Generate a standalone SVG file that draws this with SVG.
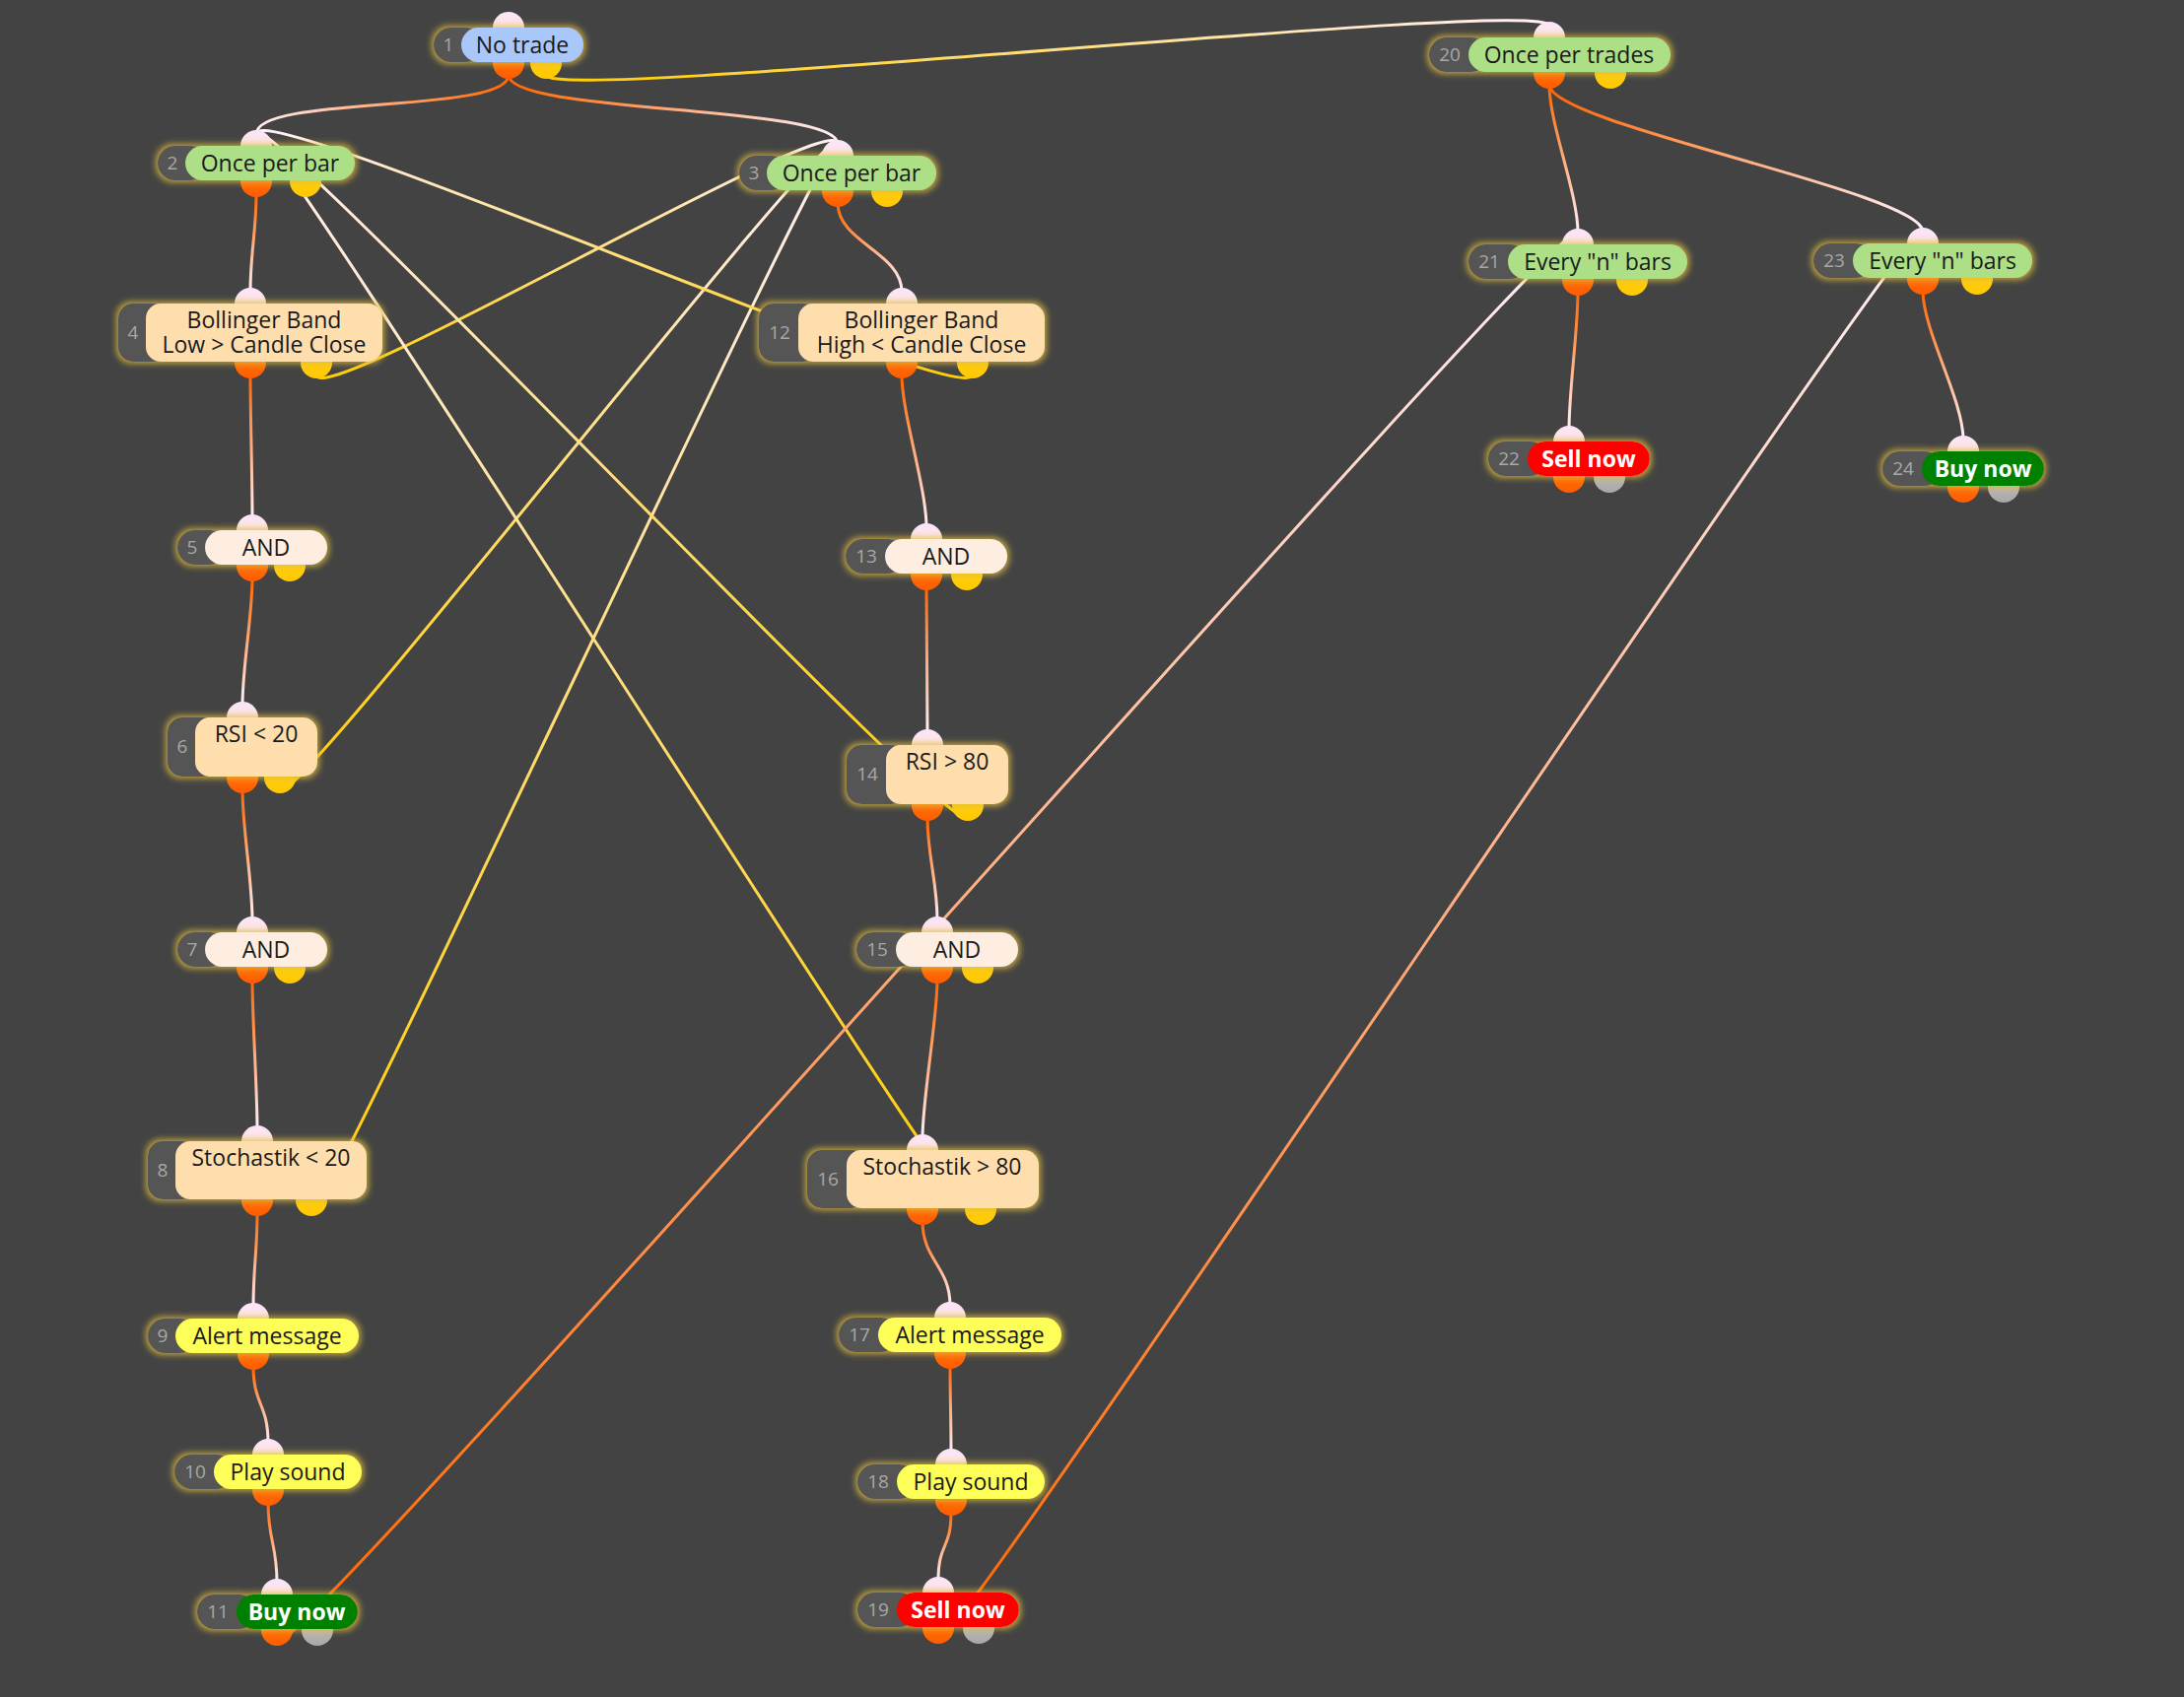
<svg xmlns="http://www.w3.org/2000/svg" width="2216" height="1722" viewBox="0 0 2216 1722">
<style>
text{font-family:"Open Sans","Noto Sans","DejaVu Sans",sans-serif}
.lbl{font-size:23px;fill:#1a1a1a;text-anchor:middle}
.wl{font-size:23px;fill:#ffffff;font-weight:bold;text-anchor:middle}
.num{font-size:19px;fill:#a8a8a8;text-anchor:middle}
.np{fill:#555555}
.blue{fill:#a9c8f9}
.green{fill:#addf87}
.peach{fill:#ffdeae}
.and{fill:#fdeee1}
.yel{fill:#fefe58}
.buy{fill:#008000}
.sell{fill:#ff0000}
.pin{fill:url(#gIn)}
.po{fill:url(#gOr)}
.py{fill:url(#gYe)}
.pg{fill:url(#gGr)}
.c{fill:none;stroke-width:3;stroke-linecap:round}
</style>
<defs>
<linearGradient id="gIn" x1="0" y1="0" x2="0" y2="1"><stop offset="0" stop-color="#fbe4fa"/><stop offset="1" stop-color="#ffe5cc"/></linearGradient>
<linearGradient id="gOr" x1="0" y1="0" x2="0" y2="1"><stop offset="0" stop-color="#ff8410"/><stop offset="1" stop-color="#ff5c00"/></linearGradient>
<linearGradient id="gYe" x1="0" y1="0" x2="0" y2="1"><stop offset="0" stop-color="#ffd424"/><stop offset="1" stop-color="#ffc800"/></linearGradient>
<linearGradient id="gGr" x1="0" y1="0" x2="0" y2="1"><stop offset="0" stop-color="#d0c8c0"/><stop offset="1" stop-color="#a8a8a8"/></linearGradient>
<filter id="glow" x="-20%" y="-60%" width="140%" height="220%">
<feMorphology in="SourceAlpha" operator="dilate" radius="2" result="d"/>
<feGaussianBlur in="d" stdDeviation="3" result="b"/>
<feFlood flood-color="#e0bc3c" flood-opacity="0.8"/>
<feComposite in2="b" operator="in" result="g"/>
<feMerge><feMergeNode in="g"/><feMergeNode in="SourceGraphic"/></feMerge>
</filter>
<linearGradient id="l1" gradientUnits="userSpaceOnUse" x1="516" y1="76" x2="260" y2="136"><stop offset="0" stop-color="#ff6600"/><stop offset="1" stop-color="#fff0f6"/></linearGradient>
<linearGradient id="l2" gradientUnits="userSpaceOnUse" x1="516" y1="76" x2="850" y2="146"><stop offset="0" stop-color="#ff6600"/><stop offset="1" stop-color="#fff0f6"/></linearGradient>
<linearGradient id="l3" gradientUnits="userSpaceOnUse" x1="554" y1="76" x2="1572" y2="26"><stop offset="0" stop-color="#ffcc00"/><stop offset="1" stop-color="#fff0f6"/></linearGradient>
<linearGradient id="l4" gradientUnits="userSpaceOnUse" x1="260" y1="196" x2="254" y2="296"><stop offset="0" stop-color="#ff6600"/><stop offset="1" stop-color="#fff0f6"/></linearGradient>
<linearGradient id="l5" gradientUnits="userSpaceOnUse" x1="850" y1="206" x2="915" y2="296"><stop offset="0" stop-color="#ff6600"/><stop offset="1" stop-color="#fff0f6"/></linearGradient>
<linearGradient id="l6" gradientUnits="userSpaceOnUse" x1="254" y1="380" x2="256" y2="526"><stop offset="0" stop-color="#ff6600"/><stop offset="1" stop-color="#fff0f6"/></linearGradient>
<linearGradient id="l7" gradientUnits="userSpaceOnUse" x1="256" y1="586" x2="246" y2="716"><stop offset="0" stop-color="#ff6600"/><stop offset="1" stop-color="#fff0f6"/></linearGradient>
<linearGradient id="l8" gradientUnits="userSpaceOnUse" x1="246" y1="801" x2="256" y2="934"><stop offset="0" stop-color="#ff6600"/><stop offset="1" stop-color="#fff0f6"/></linearGradient>
<linearGradient id="l9" gradientUnits="userSpaceOnUse" x1="256" y1="994" x2="261" y2="1146"><stop offset="0" stop-color="#ff6600"/><stop offset="1" stop-color="#fff0f6"/></linearGradient>
<linearGradient id="l10" gradientUnits="userSpaceOnUse" x1="261" y1="1230" x2="257" y2="1326"><stop offset="0" stop-color="#ff6600"/><stop offset="1" stop-color="#fff0f6"/></linearGradient>
<linearGradient id="l11" gradientUnits="userSpaceOnUse" x1="257" y1="1386" x2="272" y2="1464"><stop offset="0" stop-color="#ff6600"/><stop offset="1" stop-color="#fff0f6"/></linearGradient>
<linearGradient id="l12" gradientUnits="userSpaceOnUse" x1="272" y1="1524" x2="281" y2="1606"><stop offset="0" stop-color="#ff6600"/><stop offset="1" stop-color="#fff0f6"/></linearGradient>
<linearGradient id="l13" gradientUnits="userSpaceOnUse" x1="915" y1="380" x2="940" y2="535"><stop offset="0" stop-color="#ff6600"/><stop offset="1" stop-color="#fff0f6"/></linearGradient>
<linearGradient id="l14" gradientUnits="userSpaceOnUse" x1="940" y1="595" x2="941" y2="744"><stop offset="0" stop-color="#ff6600"/><stop offset="1" stop-color="#fff0f6"/></linearGradient>
<linearGradient id="l15" gradientUnits="userSpaceOnUse" x1="941" y1="829" x2="951" y2="934"><stop offset="0" stop-color="#ff6600"/><stop offset="1" stop-color="#fff0f6"/></linearGradient>
<linearGradient id="l16" gradientUnits="userSpaceOnUse" x1="951" y1="994" x2="936" y2="1155"><stop offset="0" stop-color="#ff6600"/><stop offset="1" stop-color="#fff0f6"/></linearGradient>
<linearGradient id="l17" gradientUnits="userSpaceOnUse" x1="936" y1="1239" x2="964" y2="1325"><stop offset="0" stop-color="#ff6600"/><stop offset="1" stop-color="#fff0f6"/></linearGradient>
<linearGradient id="l18" gradientUnits="userSpaceOnUse" x1="964" y1="1385" x2="965" y2="1474"><stop offset="0" stop-color="#ff6600"/><stop offset="1" stop-color="#fff0f6"/></linearGradient>
<linearGradient id="l19" gradientUnits="userSpaceOnUse" x1="965" y1="1534" x2="952" y2="1604"><stop offset="0" stop-color="#ff6600"/><stop offset="1" stop-color="#fff0f6"/></linearGradient>
<linearGradient id="l20" gradientUnits="userSpaceOnUse" x1="1572" y1="86" x2="1601" y2="236"><stop offset="0" stop-color="#ff6600"/><stop offset="1" stop-color="#fff0f6"/></linearGradient>
<linearGradient id="l21" gradientUnits="userSpaceOnUse" x1="1572" y1="86" x2="1951" y2="235"><stop offset="0" stop-color="#ff6600"/><stop offset="1" stop-color="#fff0f6"/></linearGradient>
<linearGradient id="l22" gradientUnits="userSpaceOnUse" x1="1601" y1="296" x2="1592" y2="436"><stop offset="0" stop-color="#ff6600"/><stop offset="1" stop-color="#fff0f6"/></linearGradient>
<linearGradient id="l23" gradientUnits="userSpaceOnUse" x1="1951" y1="295" x2="1992" y2="446"><stop offset="0" stop-color="#ff6600"/><stop offset="1" stop-color="#fff0f6"/></linearGradient>
<linearGradient id="l24" gradientUnits="userSpaceOnUse" x1="321" y1="380" x2="850" y2="146"><stop offset="0" stop-color="#ffcc00"/><stop offset="1" stop-color="#fff0f6"/></linearGradient>
<linearGradient id="l25" gradientUnits="userSpaceOnUse" x1="284" y1="801" x2="850" y2="146"><stop offset="0" stop-color="#ffcc00"/><stop offset="1" stop-color="#fff0f6"/></linearGradient>
<linearGradient id="l26" gradientUnits="userSpaceOnUse" x1="316" y1="1230" x2="850" y2="146"><stop offset="0" stop-color="#ffcc00"/><stop offset="1" stop-color="#fff0f6"/></linearGradient>
<linearGradient id="l27" gradientUnits="userSpaceOnUse" x1="987" y1="380" x2="260" y2="136"><stop offset="0" stop-color="#ffcc00"/><stop offset="1" stop-color="#fff0f6"/></linearGradient>
<linearGradient id="l28" gradientUnits="userSpaceOnUse" x1="982" y1="829" x2="260" y2="136"><stop offset="0" stop-color="#ffcc00"/><stop offset="1" stop-color="#fff0f6"/></linearGradient>
<linearGradient id="l29" gradientUnits="userSpaceOnUse" x1="995" y1="1239" x2="260" y2="136"><stop offset="0" stop-color="#ffcc00"/><stop offset="1" stop-color="#fff0f6"/></linearGradient>
<linearGradient id="l30" gradientUnits="userSpaceOnUse" x1="281" y1="1666" x2="1601" y2="236"><stop offset="0" stop-color="#ff6600"/><stop offset="1" stop-color="#fff0f6"/></linearGradient>
<linearGradient id="l31" gradientUnits="userSpaceOnUse" x1="952" y1="1664" x2="1951" y2="235"><stop offset="0" stop-color="#ff6600"/><stop offset="1" stop-color="#fff0f6"/></linearGradient>
</defs>
<rect width="2216" height="1722" fill="#434343"/>
<g id="connectors">
<path class="c" stroke="url(#l1)" d="M516 76 C516 116 260 96 260 136"/>
<path class="c" stroke="url(#l2)" d="M516 76 C516 116 850 106 850 146"/>
<path class="c" stroke="url(#l3)" d="M554 76 C554 106 1572 -4 1572 26"/>
<path class="c" stroke="url(#l4)" d="M260 196 C260 236 254 256 254 296"/>
<path class="c" stroke="url(#l5)" d="M850 206 C850 246 915 256 915 296"/>
<path class="c" stroke="url(#l6)" d="M254 380 C254 420 256 486 256 526"/>
<path class="c" stroke="url(#l7)" d="M256 586 C256 626 246 676 246 716"/>
<path class="c" stroke="url(#l8)" d="M246 801 C246 841 256 894 256 934"/>
<path class="c" stroke="url(#l9)" d="M256 994 C256 1034 261 1106 261 1146"/>
<path class="c" stroke="url(#l10)" d="M261 1230 C261 1270 257 1286 257 1326"/>
<path class="c" stroke="url(#l11)" d="M257 1386 C257 1426 272 1424 272 1464"/>
<path class="c" stroke="url(#l12)" d="M272 1524 C272 1564 281 1566 281 1606"/>
<path class="c" stroke="url(#l13)" d="M915 380 C915 420 940 495 940 535"/>
<path class="c" stroke="url(#l14)" d="M940 595 C940 635 941 704 941 744"/>
<path class="c" stroke="url(#l15)" d="M941 829 C941 869 951 894 951 934"/>
<path class="c" stroke="url(#l16)" d="M951 994 C951 1034 936 1115 936 1155"/>
<path class="c" stroke="url(#l17)" d="M936 1239 C936 1279 964 1285 964 1325"/>
<path class="c" stroke="url(#l18)" d="M964 1385 C964 1425 965 1434 965 1474"/>
<path class="c" stroke="url(#l19)" d="M965 1534 C965 1574 952 1564 952 1604"/>
<path class="c" stroke="url(#l20)" d="M1572 86 C1572 126 1601 196 1601 236"/>
<path class="c" stroke="url(#l21)" d="M1572 86 C1572 126 1951 195 1951 235"/>
<path class="c" stroke="url(#l22)" d="M1601 296 C1601 336 1592 396 1592 436"/>
<path class="c" stroke="url(#l23)" d="M1951 295 C1951 335 1992 406 1992 446"/>
<path class="c" stroke="url(#l24)" d="M321 380 C321 420 850 106 850 146"/>
<path class="c" stroke="url(#l25)" d="M284 801 C284 841 850 106 850 146"/>
<path class="c" stroke="url(#l26)" d="M316 1230 C316 1270 850 106 850 146"/>
<path class="c" stroke="url(#l27)" d="M987 380 C987 420 260 96 260 136"/>
<path class="c" stroke="url(#l28)" d="M982 829 C982 869 260 96 260 136"/>
<path class="c" stroke="url(#l29)" d="M995 1239 C995 1279 260 96 260 136"/>
<path class="c" stroke="url(#l30)" d="M281 1666 C281 1706 1601 196 1601 236"/>
<path class="c" stroke="url(#l31)" d="M952 1664 C952 1704 1951 195 1951 235"/>
</g>

<g id="node1">
<rect class="pin" x="500" y="12" width="32" height="36" rx="16"/>
<rect class="po" x="500" y="44" width="32" height="36" rx="16"/>
<rect class="py" x="538" y="44" width="32" height="36" rx="16"/>
<g filter="url(#glow)"><rect class="np" x="440" y="28" width="50" height="35" rx="17.5"/><rect class="blue" x="468" y="28" width="124" height="35" rx="17.5"/></g>
<text class="num" x="455" y="52">1</text><text class="lbl" x="530" y="53.5">No trade</text>
</g>

<g id="node2">
<rect class="pin" x="244" y="132" width="32" height="36" rx="16"/>
<rect class="po" x="244" y="164" width="32" height="36" rx="16"/>
<rect class="py" x="294" y="164" width="32" height="36" rx="16"/>
<g filter="url(#glow)"><rect class="np" x="160" y="148" width="50" height="35" rx="17.5"/><rect class="green" x="188" y="148" width="172" height="35" rx="17.5"/></g>
<text class="num" x="175" y="172">2</text><text class="lbl" x="274" y="173.5">Once per bar</text>
</g>

<g id="node3">
<rect class="pin" x="834" y="142" width="32" height="36" rx="16"/>
<rect class="po" x="834" y="174" width="32" height="36" rx="16"/>
<rect class="py" x="884" y="174" width="32" height="36" rx="16"/>
<g filter="url(#glow)"><rect class="np" x="750" y="158" width="50" height="35" rx="17.5"/><rect class="green" x="778" y="158" width="172" height="35" rx="17.5"/></g>
<text class="num" x="765" y="182">3</text><text class="lbl" x="864" y="183.5">Once per bar</text>
</g>

<g id="node4">
<rect class="pin" x="238" y="292" width="32" height="36" rx="16"/>
<rect class="po" x="238" y="348" width="32" height="36" rx="16"/>
<rect class="py" x="305" y="348" width="32" height="36" rx="16"/>
<g filter="url(#glow)"><rect class="np" x="120" y="308" width="50" height="59" rx="15"/><rect class="peach" x="148" y="308" width="240" height="59" rx="15"/></g>
<text class="num" x="135" y="344">4</text><text class="lbl" x="268" y="333">Bollinger Band</text><text class="lbl" x="268" y="358">Low &gt; Candle Close</text>
</g>

<g id="node12">
<rect class="pin" x="899" y="292" width="32" height="36" rx="16"/>
<rect class="po" x="899" y="348" width="32" height="36" rx="16"/>
<rect class="py" x="971" y="348" width="32" height="36" rx="16"/>
<g filter="url(#glow)"><rect class="np" x="770" y="308" width="60" height="59" rx="15"/><rect class="peach" x="810" y="308" width="250" height="59" rx="15"/></g>
<text class="num" x="791" y="344">12</text><text class="lbl" x="935" y="333">Bollinger Band</text><text class="lbl" x="935" y="358">High &lt; Candle Close</text>
</g>

<g id="node5">
<rect class="pin" x="240" y="522" width="32" height="36" rx="16"/>
<rect class="po" x="240" y="554" width="32" height="36" rx="16"/>
<rect class="py" x="278" y="554" width="32" height="36" rx="16"/>
<g filter="url(#glow)"><rect class="np" x="180" y="538" width="50" height="35" rx="17.5"/><rect class="and" x="208" y="538" width="124" height="35" rx="17.5"/></g>
<text class="num" x="195" y="562">5</text><text class="lbl" x="270" y="563.5">AND</text>
</g>

<g id="node13">
<rect class="pin" x="924" y="531" width="32" height="36" rx="16"/>
<rect class="po" x="924" y="563" width="32" height="36" rx="16"/>
<rect class="py" x="965" y="563" width="32" height="36" rx="16"/>
<g filter="url(#glow)"><rect class="np" x="858" y="547" width="60" height="35" rx="17.5"/><rect class="and" x="898" y="547" width="124" height="35" rx="17.5"/></g>
<text class="num" x="879" y="571">13</text><text class="lbl" x="960" y="572.5">AND</text>
</g>

<g id="node6">
<rect class="pin" x="230" y="712" width="32" height="36" rx="16"/>
<rect class="po" x="230" y="769" width="32" height="36" rx="16"/>
<rect class="py" x="268" y="769" width="32" height="36" rx="16"/>
<g filter="url(#glow)"><rect class="np" x="170" y="728" width="50" height="60" rx="15"/><rect class="peach" x="198" y="728" width="124" height="60" rx="15"/></g>
<text class="num" x="185" y="764">6</text><text class="lbl" x="260" y="753">RSI &lt; 20</text>
</g>

<g id="node14">
<rect class="pin" x="925" y="740" width="32" height="36" rx="16"/>
<rect class="po" x="925" y="797" width="32" height="36" rx="16"/>
<rect class="py" x="966" y="797" width="32" height="36" rx="16"/>
<g filter="url(#glow)"><rect class="np" x="859" y="756" width="60" height="60" rx="15"/><rect class="peach" x="899" y="756" width="124" height="60" rx="15"/></g>
<text class="num" x="880" y="792">14</text><text class="lbl" x="961" y="781">RSI &gt; 80</text>
</g>

<g id="node7">
<rect class="pin" x="240" y="930" width="32" height="36" rx="16"/>
<rect class="po" x="240" y="962" width="32" height="36" rx="16"/>
<rect class="py" x="278" y="962" width="32" height="36" rx="16"/>
<g filter="url(#glow)"><rect class="np" x="180" y="946" width="50" height="35" rx="17.5"/><rect class="and" x="208" y="946" width="124" height="35" rx="17.5"/></g>
<text class="num" x="195" y="970">7</text><text class="lbl" x="270" y="971.5">AND</text>
</g>

<g id="node15">
<rect class="pin" x="935" y="930" width="32" height="36" rx="16"/>
<rect class="po" x="935" y="962" width="32" height="36" rx="16"/>
<rect class="py" x="976" y="962" width="32" height="36" rx="16"/>
<g filter="url(#glow)"><rect class="np" x="869" y="946" width="60" height="35" rx="17.5"/><rect class="and" x="909" y="946" width="124" height="35" rx="17.5"/></g>
<text class="num" x="890" y="970">15</text><text class="lbl" x="971" y="971.5">AND</text>
</g>

<g id="node8">
<rect class="pin" x="245" y="1142" width="32" height="36" rx="16"/>
<rect class="po" x="245" y="1198" width="32" height="36" rx="16"/>
<rect class="py" x="300" y="1198" width="32" height="36" rx="16"/>
<g filter="url(#glow)"><rect class="np" x="150" y="1158" width="50" height="59" rx="15"/><rect class="peach" x="178" y="1158" width="194" height="59" rx="15"/></g>
<text class="num" x="165" y="1194">8</text><text class="lbl" x="275" y="1183">Stochastik &lt; 20</text>
</g>

<g id="node16">
<rect class="pin" x="920" y="1151" width="32" height="36" rx="16"/>
<rect class="po" x="920" y="1207" width="32" height="36" rx="16"/>
<rect class="py" x="979" y="1207" width="32" height="36" rx="16"/>
<g filter="url(#glow)"><rect class="np" x="819" y="1167" width="60" height="59" rx="15"/><rect class="peach" x="859" y="1167" width="195" height="59" rx="15"/></g>
<text class="num" x="840" y="1203">16</text><text class="lbl" x="956" y="1192">Stochastik &gt; 80</text>
</g>

<g id="node9">
<rect class="pin" x="241" y="1322" width="32" height="36" rx="16"/>
<rect class="po" x="241" y="1354" width="32" height="36" rx="16"/>
<g filter="url(#glow)"><rect class="np" x="150" y="1338" width="50" height="35" rx="17.5"/><rect class="yel" x="178" y="1338" width="186" height="35" rx="17.5"/></g>
<text class="num" x="165" y="1362">9</text><text class="lbl" x="271" y="1363.5">Alert message</text>
</g>

<g id="node17">
<rect class="pin" x="948" y="1321" width="32" height="36" rx="16"/>
<rect class="po" x="948" y="1353" width="32" height="36" rx="16"/>
<g filter="url(#glow)"><rect class="np" x="851" y="1337" width="60" height="35" rx="17.5"/><rect class="yel" x="891" y="1337" width="186" height="35" rx="17.5"/></g>
<text class="num" x="872" y="1361">17</text><text class="lbl" x="984" y="1362.5">Alert message</text>
</g>

<g id="node10">
<rect class="pin" x="256" y="1460" width="32" height="36" rx="16"/>
<rect class="po" x="256" y="1492" width="32" height="36" rx="16"/>
<g filter="url(#glow)"><rect class="np" x="177" y="1476" width="60" height="35" rx="17.5"/><rect class="yel" x="217" y="1476" width="150" height="35" rx="17.5"/></g>
<text class="num" x="198" y="1500">10</text><text class="lbl" x="292" y="1501.5">Play sound</text>
</g>

<g id="node18">
<rect class="pin" x="949" y="1470" width="32" height="36" rx="16"/>
<rect class="po" x="949" y="1502" width="32" height="36" rx="16"/>
<g filter="url(#glow)"><rect class="np" x="870" y="1486" width="60" height="35" rx="17.5"/><rect class="yel" x="910" y="1486" width="150" height="35" rx="17.5"/></g>
<text class="num" x="891" y="1510">18</text><text class="lbl" x="985" y="1511.5">Play sound</text>
</g>

<g id="node11">
<rect class="pin" x="265" y="1602" width="32" height="36" rx="16"/>
<rect class="po" x="265" y="1634" width="32" height="36" rx="16"/>
<rect class="pg" x="306" y="1634" width="32" height="36" rx="16"/>
<g filter="url(#glow)"><rect class="np" x="200" y="1618" width="60" height="35" rx="17.5"/><rect class="buy" x="240" y="1618" width="123" height="35" rx="17.5"/></g>
<text class="num" x="221" y="1642">11</text><text class="wl" x="301" y="1643.5">Buy now</text>
</g>

<g id="node19">
<rect class="pin" x="936" y="1600" width="32" height="36" rx="16"/>
<rect class="po" x="936" y="1632" width="32" height="36" rx="16"/>
<rect class="pg" x="977" y="1632" width="32" height="36" rx="16"/>
<g filter="url(#glow)"><rect class="np" x="870" y="1616" width="60" height="35" rx="17.5"/><rect class="sell" x="910" y="1616" width="124" height="35" rx="17.5"/></g>
<text class="num" x="891" y="1640">19</text><text class="wl" x="972" y="1641.5">Sell now</text>
</g>

<g id="node20">
<rect class="pin" x="1556" y="22" width="32" height="36" rx="16"/>
<rect class="po" x="1556" y="54" width="32" height="36" rx="16"/>
<rect class="py" x="1618" y="54" width="32" height="36" rx="16"/>
<g filter="url(#glow)"><rect class="np" x="1450" y="38" width="60" height="35" rx="17.5"/><rect class="green" x="1490" y="38" width="205" height="35" rx="17.5"/></g>
<text class="num" x="1471" y="62">20</text><text class="lbl" x="1592" y="63.5">Once per trades</text>
</g>

<g id="node21">
<rect class="pin" x="1585" y="232" width="32" height="36" rx="16"/>
<rect class="po" x="1585" y="264" width="32" height="36" rx="16"/>
<rect class="py" x="1640" y="264" width="32" height="36" rx="16"/>
<g filter="url(#glow)"><rect class="np" x="1490" y="248" width="60" height="35" rx="17.5"/><rect class="green" x="1530" y="248" width="182" height="35" rx="17.5"/></g>
<text class="num" x="1511" y="272">21</text><text class="lbl" x="1621" y="273.5">Every "n" bars</text>
</g>

<g id="node23">
<rect class="pin" x="1935" y="231" width="32" height="36" rx="16"/>
<rect class="po" x="1935" y="263" width="32" height="36" rx="16"/>
<rect class="py" x="1990" y="263" width="32" height="36" rx="16"/>
<g filter="url(#glow)"><rect class="np" x="1840" y="247" width="60" height="35" rx="17.5"/><rect class="green" x="1880" y="247" width="182" height="35" rx="17.5"/></g>
<text class="num" x="1861" y="271">23</text><text class="lbl" x="1971" y="272.5">Every "n" bars</text>
</g>

<g id="node22">
<rect class="pin" x="1576" y="432" width="32" height="36" rx="16"/>
<rect class="po" x="1576" y="464" width="32" height="36" rx="16"/>
<rect class="pg" x="1617" y="464" width="32" height="36" rx="16"/>
<g filter="url(#glow)"><rect class="np" x="1510" y="448" width="60" height="35" rx="17.5"/><rect class="sell" x="1550" y="448" width="124" height="35" rx="17.5"/></g>
<text class="num" x="1531" y="472">22</text><text class="wl" x="1612" y="473.5">Sell now</text>
</g>

<g id="node24">
<rect class="pin" x="1976" y="442" width="32" height="36" rx="16"/>
<rect class="po" x="1976" y="474" width="32" height="36" rx="16"/>
<rect class="pg" x="2017" y="474" width="32" height="36" rx="16"/>
<g filter="url(#glow)"><rect class="np" x="1910" y="458" width="60" height="35" rx="17.5"/><rect class="buy" x="1950" y="458" width="124" height="35" rx="17.5"/></g>
<text class="num" x="1931" y="482">24</text><text class="wl" x="2012" y="483.5">Buy now</text>
</g>
</svg>
